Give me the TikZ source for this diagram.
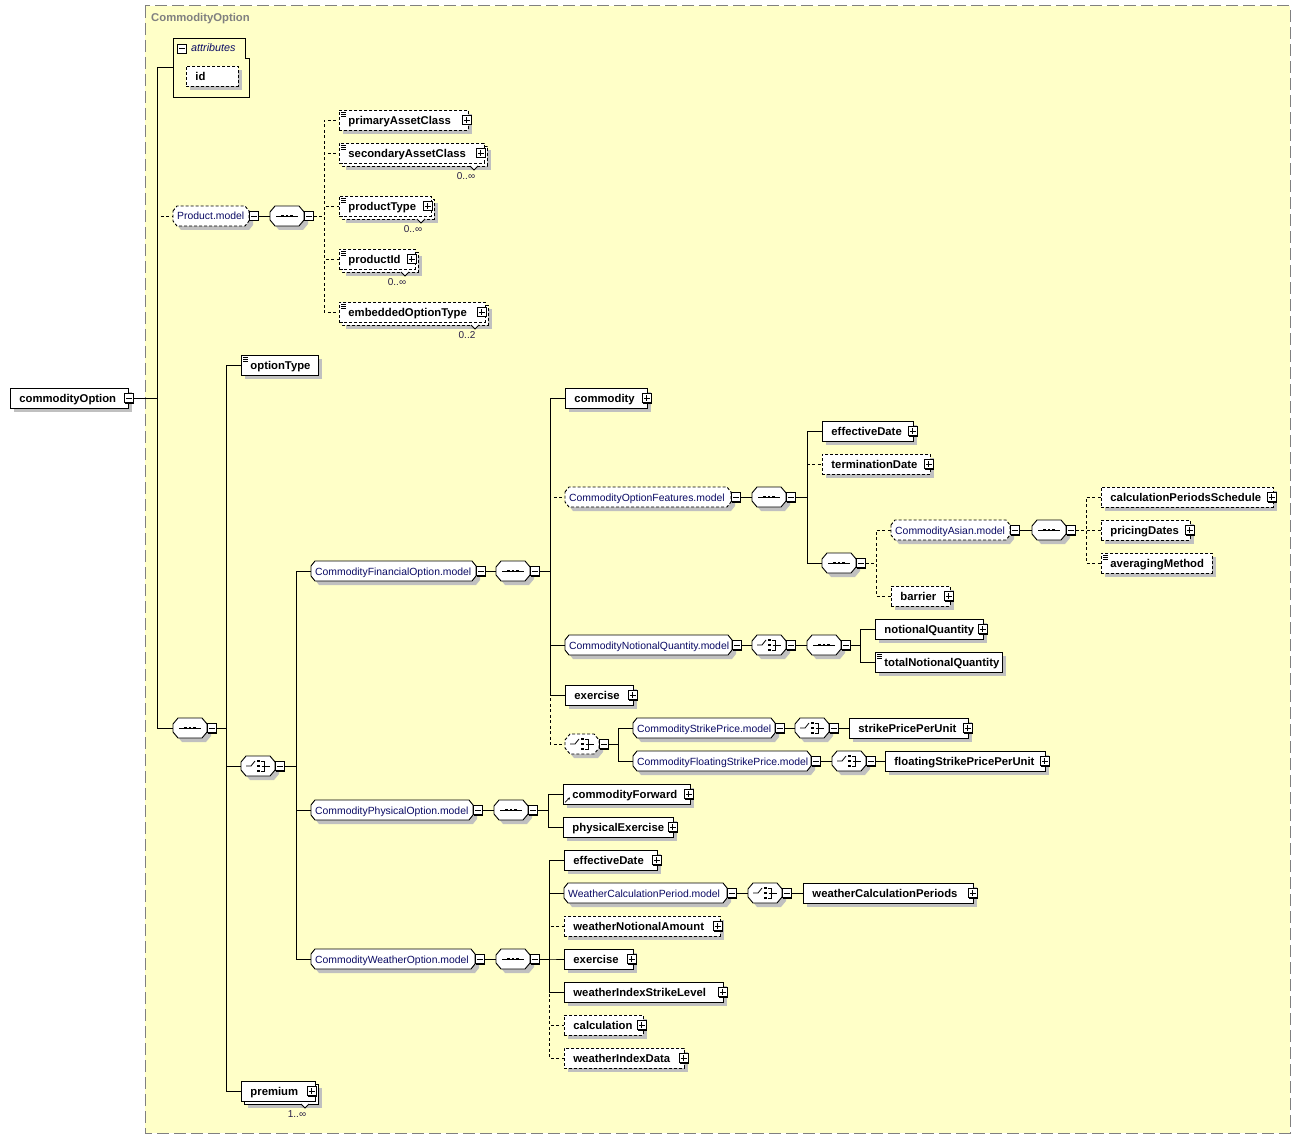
\documentclass[tikz,border=0pt]{standalone}
\usepackage{fontspec}
\setmainfont{Liberation Sans}
\usetikzlibrary{shadows,arrows.meta}
\pgfdeclarelayer{bg}
\pgfsetlayers{bg,main}
\definecolor{bgyellow}{RGB}{255,255,200}
\definecolor{shadowc}{RGB}{192,192,192}
\definecolor{navyc}{RGB}{10,10,100}
\definecolor{bordergray}{RGB}{128,128,128}
\definecolor{labc}{RGB}{40,30,70}
\newcommand\xfB{\fontsize{11.3}{13}\selectfont\bfseries}
\newcommand\xfM{\fontsize{10.4}{12}\selectfont}
\newcommand\xfL{\fontsize{10}{12}\selectfont}
\tikzset{
  shad/.style={drop shadow={shadow xshift=4pt,shadow yshift=-4pt,fill=shadowc,opacity=1}},
  el/.style={draw,fill=white,line width=0.9pt,anchor=west,minimum height=20pt,inner xsep=9pt,inner ysep=0pt,text height=9.8pt,text depth=1.2pt,align=left,font=\xfB},
  opt/.style={dash pattern=on 3pt off 2pt},
  btn/.style={draw,fill=white,line width=0.8pt,minimum size=9pt,inner sep=0pt,anchor=west,drop shadow={shadow xshift=1pt,shadow yshift=-1pt,fill=black,opacity=1}},
  btnm/.style={btn,path picture={\draw[line width=0.9pt] ([xshift=-3pt]path picture bounding box.center) -- ([xshift=3pt]path picture bounding box.center);}},
  btnp/.style={btn,path picture={\draw[line width=0.9pt] ([xshift=-3pt]path picture bounding box.center) -- ([xshift=3pt]path picture bounding box.center) ([yshift=-3pt]path picture bounding box.center) -- ([yshift=3pt]path picture bounding box.center);}},
  conn/.style={line width=0.9pt},
  oconn/.style={line width=0.9pt,dash pattern=on 3pt off 2.5pt},
  ghost/.style={draw=none,fill=none,anchor=west,minimum height=20pt,inner sep=0pt},
}
\newcommand\xoctp[5]{({#1},{#3-10+#5}) -- ({#1+#4},{#3-10}) -- ({#2-#4},{#3-10}) -- ({#2},{#3-10+#5}) -- ({#2},{#3+10-#5}) -- ({#2-#4},{#3+10}) -- ({#1+#4},{#3+10}) -- ({#1},{#3+10-#5}) -- cycle}
% element: opts, name, l, r, y, text
\newcommand\xEl[6][]{%
  \pgfmathsetmacro\mytw{#4-#3-18}\pgfmathsetmacro\myww{#4-#3}%
  \node[el,shad,text width=\mytw pt,minimum width=\myww pt,#1] (#2) at (#3,#5) {#6};}
% multiple element: opts, name, l, r, y, text, label
\newcommand\xElM[7][]{%
  \pgfmathsetmacro\mytw{#4-#3-18}\pgfmathsetmacro\myww{#4-#3}%
  \draw[fill=white,line width=0.9pt,shad,#1] ({#3+3},{#5-7}) rectangle ({#4+3},{#5+13});
  \node[el,text width=\mytw pt,minimum width=\myww pt,#1] (#2) at (#3,#5) {#6};
  \draw[fill=white,line width=0.8pt] ({#4-14},{#5+13}) -- ({#4-10},{#5+17}) -- ({#4-6},{#5+13});
  \node[font=\xfL,text=labc,inner sep=0pt] (#2l) at ({#4-18},{#5+23}) {#7};}
% model group: opts, name, l, r, y, text
\newcommand\xOct[6][]{%
  \pgfmathsetmacro\mytw{#4-#3-8}\pgfmathsetmacro\myww{#4-#3}%
  \fill[shadowc,shift={(4pt,-4pt)}] \xoctp{#3}{#4}{#5}{4}{5};
  \draw[fill=white,line width=0.9pt,#1] \xoctp{#3}{#4}{#5}{4}{5};
  \node[anchor=west,inner xsep=4pt,inner ysep=0pt,minimum height=20pt,minimum width=\myww pt,text width=\mytw pt,align=left,font=\xfM,text=navyc,text height=9pt,text depth=1pt] (#2) at (#3,#5) {#6};}
% sequence: opts, name, l, y
\newcommand\xSeq[4][]{%
  \fill[shadowc,shift={(4pt,-4pt)}] \xoctp{#3}{#3+34}{#4}{5}{6};
  \draw[fill=white,line width=0.9pt,#1] \xoctp{#3}{#3+34}{#4}{5}{6};
  \node[ghost,minimum width=34pt] (#2) at (#3,#4) {};
  \draw[line width=0.8pt] ({#3+6},{#4}) -- ({#3+28},{#4});
  \foreach \dx in {12.5,17,21.5} {\fill ({#3+\dx-1.4},{#4-1.4}) rectangle ({#3+\dx+1.4},{#4+1.4});}}
% choice: opts, name, l, y
\newcommand\xCho[4][]{%
  \fill[shadowc,shift={(4pt,-4pt)}] \xoctp{#3}{#3+34}{#4}{5}{6};
  \draw[fill=white,line width=0.9pt,#1] \xoctp{#3}{#3+34}{#4}{5}{6};
  \node[ghost,minimum width=34pt] (#2) at (#3,#4) {};
  \draw[line width=0.8pt] ({#3+5},{#4}) -- ({#3+10},{#4}) -- ({#3+14},{#4-5});
  \foreach \dy in {-5,0,5} {\fill ({#3+16.3},{#4+\dy-1.3}) rectangle ({#3+18.9},{#4+\dy+1.3});}
  \draw[line width=0.8pt] ({#3+19.8},{#4-5}) -- ({#3+23},{#4-5}) -- ({#3+23},{#4+5}) -- ({#3+19.8},{#4+5}) ({#3+20.5},{#4}) -- ({#3+29},{#4});}
\newcommand\xBtn[4]{\node[btn#4] (#1) at (#2,#3) {};}
\newcommand\xIcon[1]{\draw[line width=0.6pt] ([xshift=2pt,yshift=-2.5pt]#1.north west) -- +(5pt,0pt) ([xshift=2pt,yshift=-4.5pt]#1.north west) -- +(5pt,0pt) ([xshift=2pt,yshift=-6.5pt]#1.north west) -- +(5pt,0pt);}
\newcommand\xTree[3][conn]{\draw[#1] (#2.east) -| ([xshift=-15pt]#3.west) -- (#3.west);}
\newcommand\xLink[2]{\draw[conn] (#1.east) -- (#2.west);}
\begin{document}
\begin{tikzpicture}[x=1pt,y=-1pt]
\useasboundingbox (0,0) rectangle (1301,1139);
\begin{pgfonlayer}{bg}
\fill[white] (0,0) rectangle (1301,1139);
\fill[bgyellow] (145,6) rectangle (1290,1133);
\draw[bordergray,line width=1pt,dash pattern=on 12pt off 5pt] (145,6) rectangle (1290,1133);
\end{pgfonlayer}
\node[anchor=west,font=\xfB,text=bordergray,inner sep=0pt] (title) at (151,19) {CommodityOption};

% root
\xEl{cO}{10}{128}{398}{commodityOption}
\xBtn{cOb}{124}{398}{m}

% attributes
\node[draw=none,anchor=north west,minimum width=76pt,minimum height=59pt,inner sep=0pt] (attr) at (173,38) {};
\draw[line width=0.9pt] (173,38) -- (245,38) -- (245,58) -- (249,58) -- (249,97) -- (173,97) -- cycle;
\xBtn{attrb}{177}{48.5}{m}
\node[anchor=west,inner sep=0pt,font=\fontsize{10.8}{12}\selectfont\itshape,text=navyc] (attrt) at (191,48) {attributes};
\xEl[opt]{id}{186}{238}{76.5}{id}

% Product.model
\xOct[opt]{pm}{173}{249}{216}{Product.model}
\xBtn{pmb}{249}{216}{m}
\xSeq{s1}{270}{216}
\xBtn{s1b}{304}{216}{m}
\xEl[opt]{pac}{339}{468}{120}{primaryAssetClass}
\xIcon{pac}
\xBtn{pacb}{462}{120}{p}
\xElM[opt]{sac}{339}{484}{153}{secondaryAssetClass}{0..∞}
\xIcon{sac}
\xBtn{sacb}{476}{153}{p}
\xElM[opt]{pt}{339}{431}{206}{productType}{0..∞}
\xIcon{pt}
\xBtn{ptb}{423}{206}{p}
\xElM[opt]{pid}{339}{415}{259}{productId}{0..∞}
\xIcon{pid}
\xBtn{pidb}{407}{259}{p}
\xElM[opt]{eot}{339}{485}{312}{embeddedOptionType}{0..2}
\xIcon{eot}
\xBtn{eotb}{477}{312}{p}

% main sequence
\xSeq{s2}{173}{728}
\xBtn{s2b}{207}{728}{m}
\xEl{ot}{241}{318}{365}{optionType}
\xIcon{ot}
\xCho{c1}{241}{766}
\xBtn{c1b}{275}{766}{m}
\xElM{prem}{241}{315}{1091}{premium}{1..∞}
\xBtn{premb}{307}{1091}{p}

% options
\xOct{fo}{311}{476}{571}{CommodityFinancialOption.model}
\xBtn{fob}{476}{571}{m}
\xSeq{s3}{496}{571}
\xBtn{s3b}{530}{571}{m}
\xOct{po}{311}{473}{810}{CommodityPhysicalOption.model}
\xBtn{pob}{473}{810}{m}
\xSeq{s4}{494}{810}
\xBtn{s4b}{528}{810}{m}
\xOct{wo}{311}{475}{959}{CommodityWeatherOption.model}
\xBtn{wob}{475}{959}{m}
\xSeq{s5}{496}{959}
\xBtn{s5b}{530}{959}{m}

% financial
\xEl{com}{565}{647}{398}{commodity}
\xBtn{comb}{642}{398}{p}
\xOct[opt]{cof}{565}{731}{497}{CommodityOptionFeatures.model}
\xBtn{cofb}{731}{497}{m}
\xSeq{s6}{752}{497}
\xBtn{s6b}{786}{497}{m}
\xOct{cnq}{565}{732}{645}{CommodityNotionalQuantity.model}
\xBtn{cnqb}{732}{645}{m}
\xCho{c2}{752}{645}
\xBtn{c2b}{786}{645}{m}
\xSeq{s7}{807}{645}
\xBtn{s7b}{841}{645}{m}
\xEl{exa}{565}{633}{695}{exercise}
\xBtn{exab}{628}{695}{p}
\xCho[opt]{c3}{565}{744}
\xBtn{c3b}{599}{744}{m}

% option features
\xEl{eda}{822}{913}{431}{effectiveDate}
\xBtn{edab}{908}{431}{p}
\xEl[opt]{td}{822}{930}{464}{terminationDate}
\xBtn{tdb}{924}{464}{p}
\xSeq{s8}{822}{563}
\xBtn{s8b}{856}{563}{m}
\xOct[opt]{ca}{891}{1010}{530}{CommodityAsian.model}
\xBtn{cab}{1010}{530}{m}
\xSeq{s9}{1032}{530}
\xBtn{s9b}{1066}{530}{m}
\xEl[opt]{cps}{1101}{1273}{497}{calculationPeriodsSchedule}
\xBtn{cpsb}{1267}{497}{p}
\xEl[opt]{pd}{1101}{1190}{530}{pricingDates}
\xBtn{pdb}{1185}{530}{p}
\xEl[opt]{am}{1101}{1212}{563}{averagingMethod}
\xIcon{am}
\xEl[opt]{bar}{891}{950}{596}{barrier}
\xBtn{barb}{944}{596}{p}

% notional
\xEl{nq}{875}{983}{629}{notionalQuantity}
\xBtn{nqb}{978}{629}{p}
\xEl{tnq}{875}{1002}{662}{totalNotionalQuantity}
\xIcon{tnq}

% strike
\xOct{csp}{633}{775}{728}{CommodityStrikePrice.model}
\xBtn{cspb}{775}{728}{m}
\xCho{c4}{795}{728}
\xBtn{c4b}{829}{728}{m}
\xEl{spu}{849}{968}{728}{strikePricePerUnit}
\xBtn{spub}{963}{728}{p}
\xOct{cfsp}{633}{811}{761}{CommodityFloatingStrikePrice.model}
\xBtn{cfspb}{811}{761}{m}
\xCho{c5}{832}{761}
\xBtn{c5b}{866}{761}{m}
\xEl{fspu}{885}{1045}{761}{floatingStrikePricePerUnit}
\xBtn{fspub}{1040}{761}{p}

% physical
\xEl{cf}{563}{690}{794}{commodityForward}
\xBtn{cfb}{684}{794}{p}
\draw[line width=0.7pt,-{Stealth[length=2.6pt,width=2.6pt]}] ([xshift=2pt,yshift=2pt]cf.south west) -- +(5pt,5pt);
\xEl{pe}{563}{673}{827}{physicalExercise}
\xBtn{peb}{668}{827}{p}

% weather
\xEl{edb}{564}{657}{860}{effectiveDate}
\xBtn{edbb}{652}{860}{p}
\xOct{wcp}{564}{727}{893}{WeatherCalculationPeriod.model}
\xBtn{wcpb}{727}{893}{m}
\xCho{c6}{748}{893}
\xBtn{c6b}{782}{893}{m}
\xEl{wcps}{803}{973}{893}{weatherCalculationPeriods}
\xBtn{wcpsb}{968}{893}{p}
\xEl[opt]{wna}{564}{720}{926}{weatherNotionalAmount}
\xBtn{wnab}{713}{926}{p}
\xEl{exb}{564}{633}{959}{exercise}
\xBtn{exbb}{627}{959}{p}
\xEl{wisl}{564}{723}{992}{weatherIndexStrikeLevel}
\xBtn{wislb}{718}{992}{p}
\xEl[opt]{calc}{564}{643}{1025}{calculation}
\xBtn{calcb}{637}{1025}{p}
\xEl[opt]{wid}{564}{684}{1058}{weatherIndexData}
\xBtn{widb}{679}{1058}{p}

% connectors
\begin{pgfonlayer}{bg}
\draw[oconn] (cOb.east) -| ([xshift=-16pt]pm.west) -- (pm.west);
\draw[conn] (cOb.east) -| ([xshift=-16pt]attr.west) -- (attr.west);
\draw[conn] (cOb.east) -| ([xshift=-16pt]s2.west) -- (s2.west);
\xLink{pmb}{s1}
\xTree[oconn]{s1b}{pac}
\xTree[oconn]{s1b}{sac}
\xTree[oconn]{s1b}{pt}
\xTree[oconn]{s1b}{pid}
\xTree[oconn]{s1b}{eot}
\xTree{s2b}{ot}
\xTree{s2b}{c1}
\xTree{s2b}{prem}
\xTree{c1b}{fo}
\xTree{c1b}{po}
\xTree{c1b}{wo}
\xLink{fob}{s3}
\xTree[oconn]{s3b}{cof}
\xTree[oconn]{s3b}{c3}
\xTree{s3b}{com}
\xTree{s3b}{cnq}
\xTree{s3b}{exa}
\xLink{cofb}{s6}
\xTree[oconn]{s6b}{td}
\xTree{s6b}{eda}
\xTree{s6b}{s8}
\xTree[oconn]{s8b}{ca}
\xTree[oconn]{s8b}{bar}
\xLink{cab}{s9}
\xTree[oconn]{s9b}{cps}
\xTree[oconn]{s9b}{pd}
\xTree[oconn]{s9b}{am}
\xLink{cnqb}{c2}
\xLink{c2b}{s7}
\xTree{s7b}{nq}
\xTree{s7b}{tnq}
\xTree{c3b}{csp}
\xTree{c3b}{cfsp}
\xLink{cspb}{c4}
\xLink{c4b}{spu}
\xLink{cfspb}{c5}
\xLink{c5b}{fspu}
\xLink{pob}{s4}
\xTree{s4b}{cf}
\xTree{s4b}{pe}
\xLink{wob}{s5}
\xTree[oconn]{s5b}{wna}
\xTree[oconn]{s5b}{calc}
\xTree[oconn]{s5b}{wid}
\xTree{s5b}{edb}
\xTree{s5b}{wcp}
\xTree{s5b}{exb}
\xTree{s5b}{wisl}
\xLink{wcpb}{c6}
\xLink{c6b}{wcps}
\end{pgfonlayer}
\end{tikzpicture}
\end{document}
